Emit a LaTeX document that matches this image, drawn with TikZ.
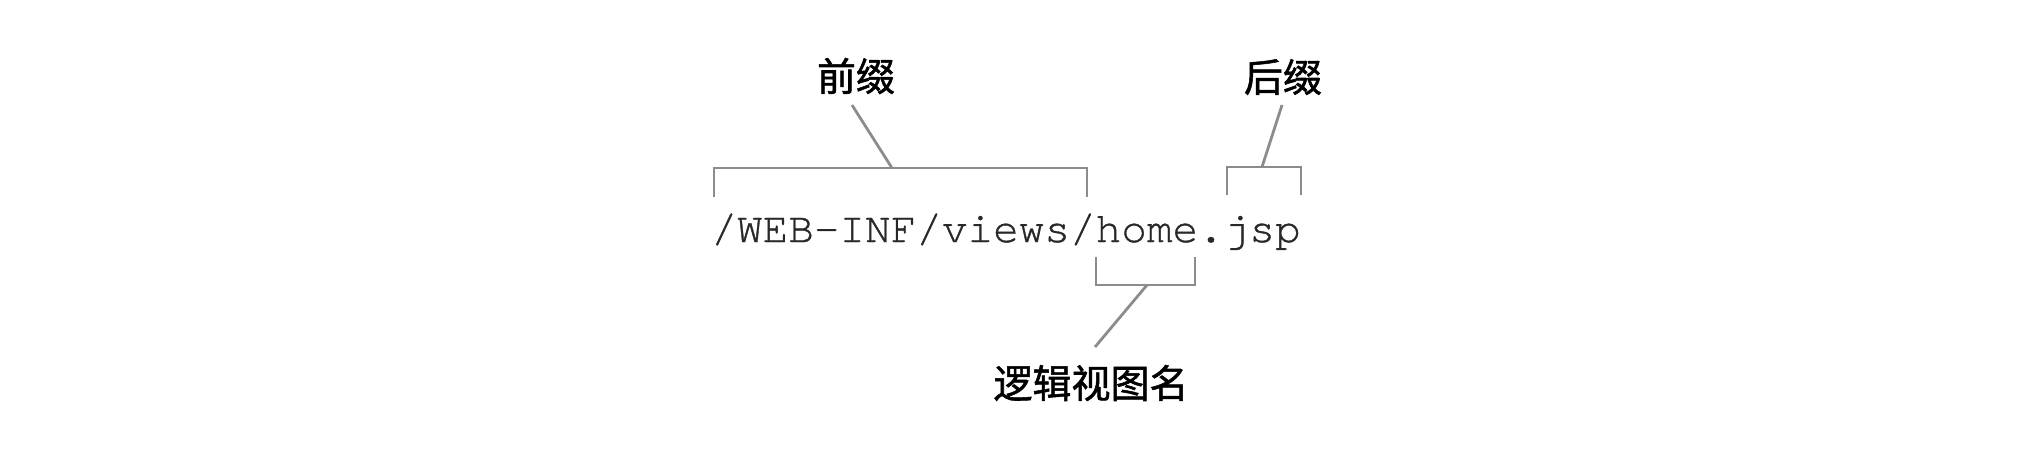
\documentclass[tikz,border=0pt]{standalone}
\usepackage{fontspec}
\newfontfamily\cjk{Noto Sans CJK SC}[AutoFakeBold=1.4]
\newfontfamily\cursorfont{TeX Gyre Cursor}[FakeBold=0.8]
\definecolor{brk}{RGB}{140,140,140}
\definecolor{txt}{RGB}{40,40,40}
\tikzset{
  bracketline/.style={draw=brk, line width=1.4pt, line join=miter},
  leader/.style={draw=brk, line width=1.4pt},
  cjklabel/.style={inner sep=0pt, font=\cjk\bfseries\fontsize{19.5pt}{20pt}\selectfont, text=black},
  pathtext/.style={inner sep=0pt, anchor=base, font=\cursorfont\fontsize{21.35pt}{22pt}\selectfont, text=txt}
}
\begin{document}
\begin{tikzpicture}[x=0.5pt, y=-0.5pt]
\useasboundingbox (0,0) rectangle (2044,468);
% path text
\node[pathtext] (path) at (1006,242) {/WEB-INF/views/home.jsp};
% labels
\node[cjklabel] (pre) at (856,76) {前缀};
\node[cjklabel] (suf) at (1283,77) {后缀};
\node[cjklabel] (logic) at (1091,383) {逻辑视图名};
% bracket corners and leader ends
\coordinate (preA) at (714,197);
\coordinate (preB) at (714,168);
\coordinate (preC) at (1087,168);
\coordinate (preD) at (1087,197);
\coordinate (preM) at (892,168);
\coordinate (preT) at (852,105);
\coordinate (sufA) at (1227,195);
\coordinate (sufB) at (1227,167);
\coordinate (sufC) at (1301,167);
\coordinate (sufD) at (1301,195);
\coordinate (sufM) at (1262,167);
\coordinate (sufT) at (1282,105);
\coordinate (logA) at (1096,257);
\coordinate (logB) at (1096,285);
\coordinate (logC) at (1195,285);
\coordinate (logD) at (1195,257);
\coordinate (logM) at (1147,285);
\coordinate (logT) at (1095,347);
% brackets
\draw[bracketline] (preA) -- (preB) -- (preC) -- (preD);
\draw[bracketline] (sufA) -- (sufB) -- (sufC) -- (sufD);
\draw[bracketline] (logA) -- (logB) -- (logC) -- (logD);
% leaders
\draw[leader] (preM) -- (preT);
\draw[leader] (sufM) -- (sufT);
\draw[leader] (logM) -- (logT);
\end{tikzpicture}
\end{document}
